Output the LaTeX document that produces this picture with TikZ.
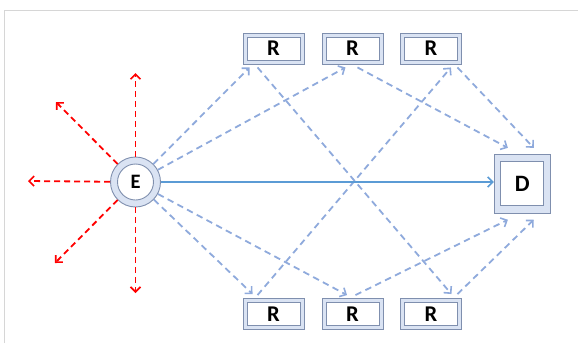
\documentclass[tikz,border=0pt]{standalone}
\usepackage{fontspec}
\setmainfont{Carlito}
\usetikzlibrary{arrows.meta,calc}
\definecolor{boxfill}{HTML}{DAE3F3}
\definecolor{boxline}{HTML}{7F8FAE}
\definecolor{linkblue}{HTML}{8FAADC}
\definecolor{mainblue}{HTML}{5B9BD5}
\definecolor{burst}{HTML}{FF0000}
\definecolor{framegray}{HTML}{D6D6D6}
\begin{document}
\begin{tikzpicture}[x=1pt,y=-1pt,
  relay/.style={draw=boxline, fill=boxfill, line width=0.9pt,
    minimum width=61pt, minimum height=31pt, inner sep=0pt},
  relayin/.style={draw=boxline, fill=white, line width=0.9pt,
    minimum width=53pt, minimum height=23pt, inner sep=0pt,
    font=\bfseries\fontsize{22.5}{22.5}\selectfont},
  sinkout/.style={draw=boxline, fill=boxfill, line width=0.9pt,
    minimum width=56pt, minimum height=59pt, inner sep=0pt},
  sinkin/.style={draw=boxline, fill=white, line width=0.9pt,
    minimum width=43pt, minimum height=44pt, inner sep=0pt,
    font=\bfseries\fontsize{23.5}{23.5}\selectfont},
  srcout/.style={circle, draw=boxline, fill=boxfill, line width=0.9pt,
    minimum size=50pt, inner sep=0pt},
  srcin/.style={circle, draw=boxline, fill=white, line width=0.9pt,
    minimum size=36pt, inner sep=0pt,
    font=\bfseries\fontsize{20.5}{20.5}\selectfont},
  barb/.style={-{Straight Barb[length=5pt,width=10pt,line width=1.6pt]}},
  link/.style={barb, draw=linkblue, line width=1.8pt, dash pattern=on 6.5pt off 4.5pt},
  direct/.style={barb, draw=mainblue, line width=1.8pt},
  spread/.style={barb, draw=burst, line width=1.8pt, dash pattern=on 6pt off 4pt},
]
\useasboundingbox (0,0) rectangle (578,343);
\draw[framegray, line width=1.2pt] (4.5,343) |- (578,10.5);

% source
\node[srcout] (e) at (135.5,182) {};
\node[srcin] (et) at (e) {E};

% relays, upper row
\node[relay] (r1) at (273.5,48.5) {};
\node[relayin] (r1t) at (r1) {R};
\node[relay] (r2) at (352.5,48.5) {};
\node[relayin] (r2t) at (r2) {R};
\node[relay] (r3) at (431,48.5) {};
\node[relayin] (r3t) at (r3) {R};

% relays, lower row
\node[relay] (r4) at (273.5,314) {};
\node[relayin] (r4t) at (r4) {R};
\node[relay] (r5) at (352.5,314) {};
\node[relayin] (r5t) at (r5) {R};
\node[relay] (r6) at (431,314) {};
\node[relayin] (r6t) at (r6) {R};

% destination
\node[sinkout] (d) at (522.3,183.8) {};
\node[sinkin] (dt) at (d) {D};

% attachment points on the relays
\coordinate (r1a) at ([shift={(7,3)}]r1.south west);
\coordinate (r1d) at ([shift={(15,3)}]r1.south west);
\coordinate (r2a) at ([shift={(-7,3)}]r2.south);
\coordinate (r2d) at ([shift={(5,3)}]r2.south);
\coordinate (r3a) at ([shift={(-11,3)}]r3.south east);
\coordinate (r3d) at ([shift={(-4.5,3)}]r3.south east);
\coordinate (r4a) at ([shift={(10,-4)}]r4.north west);
\coordinate (r4d) at ([shift={(15,-3)}]r4.north west);
\coordinate (r5a) at ([shift={(-5.5,-3)}]r5.north);
\coordinate (r5d) at ([shift={(3,-3)}]r5.north);
\coordinate (r6a) at ([shift={(-10.5,-4)}]r6.north east);
\coordinate (r6d) at ([shift={(-4.5,-4)}]r6.north east);

% attachment points on the destination
\coordinate (dtl) at ([shift={(14,-6)}]d.north west);
\coordinate (dtr) at ([shift={(-17,-6)}]d.north east);
\coordinate (dbl) at ([shift={(14,6)}]d.south west);
\coordinate (dbr) at ([shift={(-17,6)}]d.south east);

% relayed paths
\draw[link] (e) -- (r1a);
\draw[link] (e) -- (r2a);
\draw[link] (e) -- (r4a);
\draw[link] (e) -- (r5a);
\draw[link] (r1d) -- (r6a);
\draw[link] (r4d) -- (r3a);
\draw[link] (r2d) -- (dtl);
\draw[link] (r3d) -- (dtr);
\draw[link] (r5d) -- (dbl);
\draw[link] (r6d) -- (dbr);

% direct path
\draw[direct] (e) -- (e -| d.west);

% broadcast spread
\coordinate (bup) at (135.5,73);
\coordinate (bdown) at (135.5,293);
\coordinate (bleft) at (28,181);
\coordinate (bul) at (56,102);
\coordinate (bdl) at (55,263);
\draw[spread] (e) -- (bup);
\draw[spread] (e) -- (bdown);
\draw[spread] (e) -- (bleft);
\draw[spread] (e) -- (bul);
\draw[spread] (e) -- (bdl);
\end{tikzpicture}
\end{document}
